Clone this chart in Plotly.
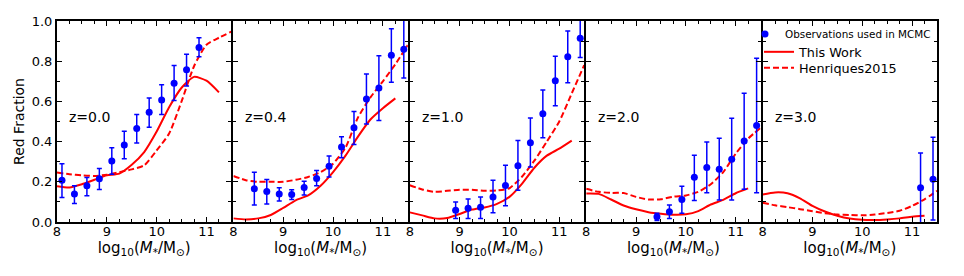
import plotly.graph_objects as go

# ---------------- data ----------------
z_labels = ["z=0.0", "z=0.4", "z=1.0", "z=2.0", "z=3.0"]

# observations (value, upper end of error bar, lower end of error bar)
obs_x = [
    [8.1, 8.35, 8.6, 8.85, 9.1, 9.35, 9.6, 9.85, 10.1, 10.35, 10.6, 10.85],
    [8.42, 8.67, 8.92, 9.17, 9.42, 9.67, 9.92, 10.17, 10.42, 10.67, 10.92, 11.17, 11.42],
    [8.92, 9.17, 9.42, 9.67, 9.92, 10.17, 10.42, 10.67, 10.92, 11.17, 11.42],
    [9.42, 9.67, 9.92, 10.17, 10.42, 10.67, 10.92, 11.17, 11.42],
    [11.17, 11.42],
]
obs_y = [
    [0.208, 0.139, 0.18, 0.215, 0.304, 0.383, 0.465, 0.546, 0.607, 0.69, 0.757, 0.868],
    [0.165, 0.152, 0.139, 0.137, 0.172, 0.216, 0.277, 0.373, 0.469, 0.612, 0.667, 0.83, 0.86],
    [0.059, 0.069, 0.073, 0.125, 0.182, 0.28, 0.394, 0.538, 0.703, 0.822, 0.914],
    [0.026, 0.051, 0.112, 0.223, 0.271, 0.262, 0.312, 0.403, 0.48],
    [0.170, 0.213],
]
obs_top = [
    [0.29, 0.18, 0.221, 0.266, 0.37, 0.452, 0.535, 0.617, 0.683, 0.779, 0.835, 0.917],
    [0.248, 0.211, 0.17, 0.16, 0.203, 0.256, 0.328, 0.424, 0.55, 0.736, 0.827, 0.962, 1.05],
    [0.10, 0.114, 0.125, 0.208, 0.282, 0.406, 0.517, 0.657, 0.825, 0.95, 1.05],
    [0.043, 0.084, 0.178, 0.332, 0.398, 0.417, 0.516, 0.64, 0.815],
    [0.343, 0.422],
]
obs_bot = [
    [0.122, 0.092, 0.130, 0.162, 0.238, 0.315, 0.393, 0.472, 0.535, 0.604, 0.677, 0.822],
    [0.084, 0.089, 0.104, 0.112, 0.134, 0.18, 0.224, 0.32, 0.386, 0.488, 0.505, 0.695, 0.716],
    [0.018, 0.018, 0.018, 0.046, 0.081, 0.158, 0.274, 0.419, 0.578, 0.693, 0.818],
    [0.007, 0.018, 0.043, 0.107, 0.145, 0.109, 0.109, 0.163, 0.145],
    [-0.03, 0.01],
]

# model curves
mass_this = [8.0, 8.25, 8.5, 8.75, 9.0, 9.25, 9.5, 9.75, 10.0, 10.25, 10.5, 10.75, 11.0, 11.25]
this_work = [
    [0.178, 0.172, 0.188, 0.21, 0.232, 0.241, 0.285, 0.348, 0.45, 0.571, 0.668, 0.722, 0.703, 0.645],
    [0.018, 0.013, 0.018, 0.035, 0.07, 0.108, 0.132, 0.18, 0.248, 0.33, 0.425, 0.51, 0.566, 0.615],
    [0.048, 0.033, 0.018, 0.02, 0.04, 0.062, 0.072, 0.09, 0.125, 0.19, 0.27, 0.33, 0.365, 0.405],
    [0.142, 0.14, 0.112, 0.082, 0.063, 0.049, 0.041, 0.036, 0.038, 0.054, 0.087, 0.11, 0.143, 0.167],
    [0.137, 0.147, 0.143, 0.118, 0.08, 0.052, 0.031, 0.017, 0.011, 0.01, 0.013, 0.018, 0.026, 0.031],
]
mass_h15 = [8.0, 8.25, 8.5, 8.75, 9.0, 9.25, 9.5, 9.75, 10.0, 10.25, 10.5, 10.75, 11.0, 11.25, 11.5]
henriques = [
    [0.246, 0.238, 0.232, 0.229, 0.235, 0.248, 0.262, 0.282, 0.356, 0.44, 0.6, 0.775, 0.882, 0.917, 0.947],
    [0.229, 0.208, 0.2, 0.2, 0.2, 0.21, 0.224, 0.248, 0.29, 0.37, 0.52, 0.62, 0.70, 0.785, 0.88],
    [0.183, 0.162, 0.15, 0.155, 0.16, 0.16, 0.155, 0.157, 0.168, 0.225, 0.305, 0.40, 0.50, 0.64, 0.78],
    [0.165, 0.15, 0.145, 0.144, 0.125, 0.112, 0.113, 0.126, 0.132, 0.15, 0.188, 0.248, 0.34, 0.415, 0.468],
    [0.096, 0.083, 0.074, 0.064, 0.054, 0.044, 0.037, 0.035, 0.033, 0.037, 0.045, 0.056, 0.08, 0.113, 0.155],
]

x_ticks = [8, 9, 10, 11]
y_ticks = [0.0, 0.2, 0.4, 0.6, 0.8, 1.0]

# ---------------- figure ----------------
FONT = "DejaVu Sans"
RED = "#ff0000"
BLUE = "#0000ff"
OFF = 8                      # default page (body) margin of the html
W, H = 964 - 2 * OFF, 276 - 2 * OFF
# plot area on screen: x 57..937, y 20..222
ML, MT = 57 - OFF, 20 - OFF
PW, PH = 880, 202
MR, MB = W - ML - PW, H - MT - PH
GAP = 2.0  # px between domains so the shared frame lines coincide
n = len(z_labels)
pw = (PW - (n - 1) * GAP) / n


def px_x(sx):
    return (sx - OFF - ML) / PW


def px_y(sy):
    return (OFF + MT + PH - sy) / PH


fig = go.Figure()

for i in range(n):
    xa = "x" if i == 0 else f"x{i+1}"
    ya = "y" if i == 0 else f"y{i+1}"
    first = (i == 0)
    fig.add_trace(go.Scatter(
        x=mass_this, y=this_work[i], xaxis=xa, yaxis=ya, mode="lines",
        line=dict(color=RED, width=2, shape="spline", smoothing=0.6),
        name="This Work", showlegend=first, legend="legend2"))
    fig.add_trace(go.Scatter(
        x=mass_h15, y=henriques[i], xaxis=xa, yaxis=ya, mode="lines",
        line=dict(color=RED, width=2, dash="6px,3px", shape="spline", smoothing=0.6),
        name="Henriques2015", showlegend=first, legend="legend3"))
    up = [t - v for t, v in zip(obs_top[i], obs_y[i])]
    dn = [v - b for v, b in zip(obs_y[i], obs_bot[i])]
    fig.add_trace(go.Scatter(
        x=obs_x[i], y=obs_y[i], xaxis=xa, yaxis=ya, mode="markers",
        marker=dict(color=BLUE, size=7),
        error_y=dict(type="data", symmetric=False, array=up, arrayminus=dn,
                     color=BLUE, thickness=1.5, width=2.5),
        name="Observations used in MCMC", showlegend=first, legend="legend"))
    fig.add_annotation(x=8.2, y=0.52, xref=xa, yref=ya, text=z_labels[i],
                       showarrow=False, xanchor="left", yanchor="middle",
                       font=dict(family=FONT, size=14, color="black"))

    d0 = i * (pw + GAP) / PW
    d1 = (i * (pw + GAP) + pw) / PW
    common_x = dict(
        domain=[d0, d1], range=[8, 11.5], anchor=ya, automargin=False,
        tickmode="array", tickvals=x_ticks, ticktext=[str(v) for v in x_ticks],
        ticks="inside", ticklen=5, tickwidth=1.2, tickcolor="black",
        ticklabelstandoff=-4,
        minor=dict(dtick=0.25, tick0=8, ticks="inside", ticklen=3, tickcolor="black", tickwidth=1),
        showline=True, linecolor="black", linewidth=2, mirror="ticks",
        showgrid=False, zeroline=False,
        tickfont=dict(family=FONT, size=13, color="black"),
        title=dict(text="log<sub>10</sub>(<i>M</i><sub>*</sub>/M<sub>⊙</sub>)",
                   font=dict(family=FONT, size=15, color="black"), standoff=2),
    )
    common_y = dict(
        domain=[0, 1], range=[0, 1], anchor=xa, automargin=False,
        tickmode="array", tickvals=y_ticks,
        ticktext=[f"{v:.1f}" for v in y_ticks] if first else [""] * len(y_ticks),
        ticks="inside", ticklen=5, tickwidth=1.2, tickcolor="black",
        minor=dict(dtick=0.1, tick0=0, ticks="inside", ticklen=3, tickcolor="black", tickwidth=1),
        showline=True, linecolor="black", linewidth=2, mirror="ticks",
        showgrid=False, zeroline=False,
        tickfont=dict(family=FONT, size=13, color="black"),
    )
    if first:
        common_y["title"] = dict(text="Red Fraction", font=dict(family=FONT, size=14, color="black"),
                                 standoff=4)
    fig.update_layout({("xaxis" if first else f"xaxis{i+1}"): common_x,
                       ("yaxis" if first else f"yaxis{i+1}"): common_y})

leg_common = dict(xanchor="left", yanchor="middle", bgcolor="rgba(0,0,0,0)",
                  borderwidth=0, itemwidth=30)
fig.update_layout(
    template="none",
    width=W, height=H,
    margin=dict(l=ML, r=MR, t=MT, b=MB),
    paper_bgcolor="white", plot_bgcolor="white",
    font=dict(family=FONT, size=13, color="black"),
    showlegend=True,
    legend=dict(x=px_x(745), y=px_y(34),
                font=dict(family=FONT, size=10.4, color="black"), **leg_common),
    legend2=dict(x=px_x(759), y=px_y(52),
                 font=dict(family=FONT, size=12.8, color="black"), **leg_common),
    legend3=dict(x=px_x(759), y=px_y(68),
                 font=dict(family=FONT, size=12.8, color="black"), **leg_common),
)

fig.write_html("out.html")
